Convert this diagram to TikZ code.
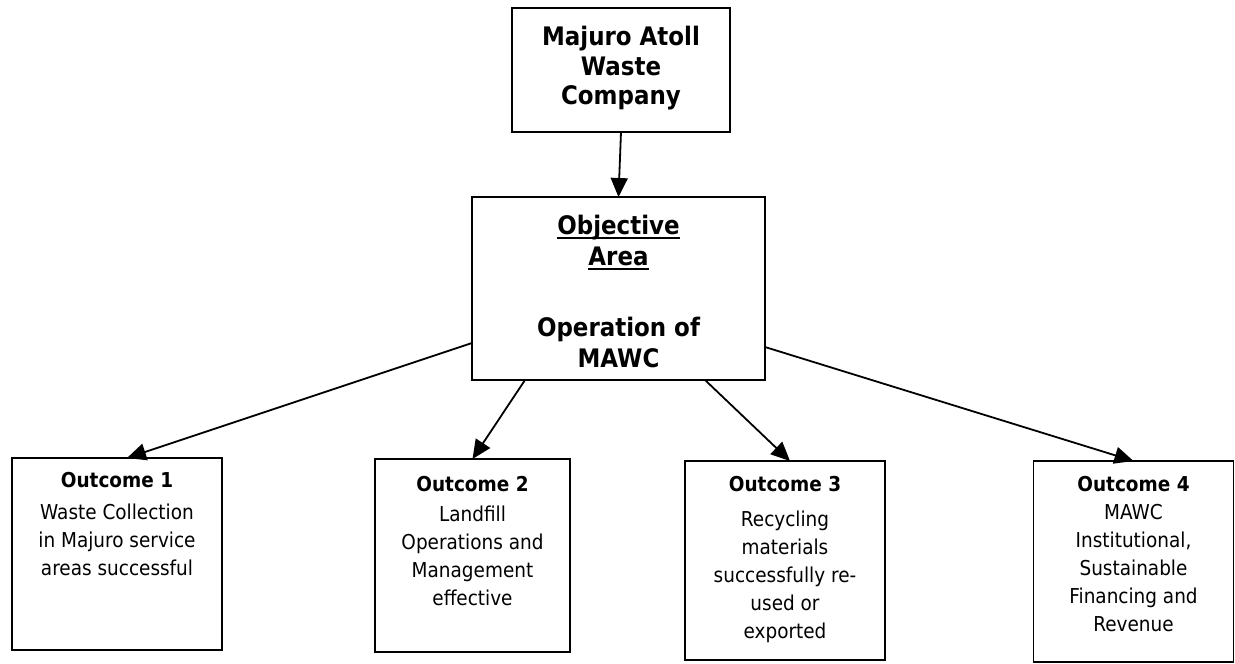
\documentclass[tikz,border=0pt]{standalone}
\usepackage{fontspec}
\setmainfont{DejaVu Sans}[FakeStretch=0.9]
\newcommand\myul[1]{\setbox0=\hbox{#1}\leavevmode\rlap{\copy0}\vrule width \wd0 height -2.8pt depth 4.6pt\relax}
\usetikzlibrary{arrows.meta,calc}
\begin{document}
\begin{tikzpicture}[x=1pt,y=-1pt,
  box/.style={draw,line width=1.9pt,inner sep=0pt,outer sep=0pt},
  arr/.style={line width=1.8pt,-{Triangle[length=19pt,width=17pt]}},
  bigtxt/.style={font=\fontsize{25.5}{29.5}\selectfont\bfseries,align=center,anchor=north,inner sep=0pt},
  objtxt/.style={font=\fontsize{25.5}{31}\selectfont\bfseries,align=center,anchor=north,inner sep=0pt},
  outtxt/.style={font=\fontsize{20.5}{28}\selectfont,align=center,anchor=north,inner sep=0pt}]
\useasboundingbox (0,0) rectangle (1235,664);
% boxes
\node[box,minimum width=218pt,minimum height=124pt] (top) at (621,70) {};
\node[box,minimum width=293pt,minimum height=183pt] (obj) at (618.5,288.5) {};
\node[box,minimum width=210pt,minimum height=192pt] (b1) at (117,554) {};
\node[box,minimum width=195pt,minimum height=193pt] (b2) at (472.5,555.5) {};
\node[box,minimum width=200pt,minimum height=199pt] (b3) at (785,560.5) {};
\node[box,minimum width=200pt,minimum height=201pt] (b4) at (1133.5,561.5) {};
% texts
\node[bigtxt] (ttop) at (621,26) {Majuro Atoll\\Waste\\Company};
\node[objtxt] (tobj) at (618.5,215) {\myul{Objective}\\\myul{Area}\\[40pt]Operation of\\MAWC};
\node[outtxt] (t1) at (117,472.5) {\textbf{Outcome 1}\\[4pt]Waste Collection\\in Majuro service\\areas successful};
\node[outtxt] (t2) at (472.5,476.5) {\textbf{Outcome 2}\\[2pt]Landfill\\Operations and\\Management\\effective};
\node[outtxt] (t3) at (785,476.5) {\textbf{Outcome 3}\\[7pt]Recycling\\materials\\successfully re-\\used or\\exported};
\node[outtxt] (t4) at (1133.5,476.5) {\textbf{Outcome 4}\\[0pt]MAWC\\Institutional,\\Sustainable\\Financing and\\Revenue};
% connectors
\draw[arr] (top.south) -- (obj.north);
\draw[arr] ($(obj.south west)+(0,-37)$) -- ([xshift=10pt]b1.north);
\draw[arr] ($(obj.south west)+(53,0)$) -- (b2.north);
\draw[arr] ($(obj.south west)+(233,0)$) -- ([xshift=5pt]b3.north);
\draw[arr] ($(obj.south east)+(0,-33)$) -- (b4.north);
\end{tikzpicture}
\end{document}
